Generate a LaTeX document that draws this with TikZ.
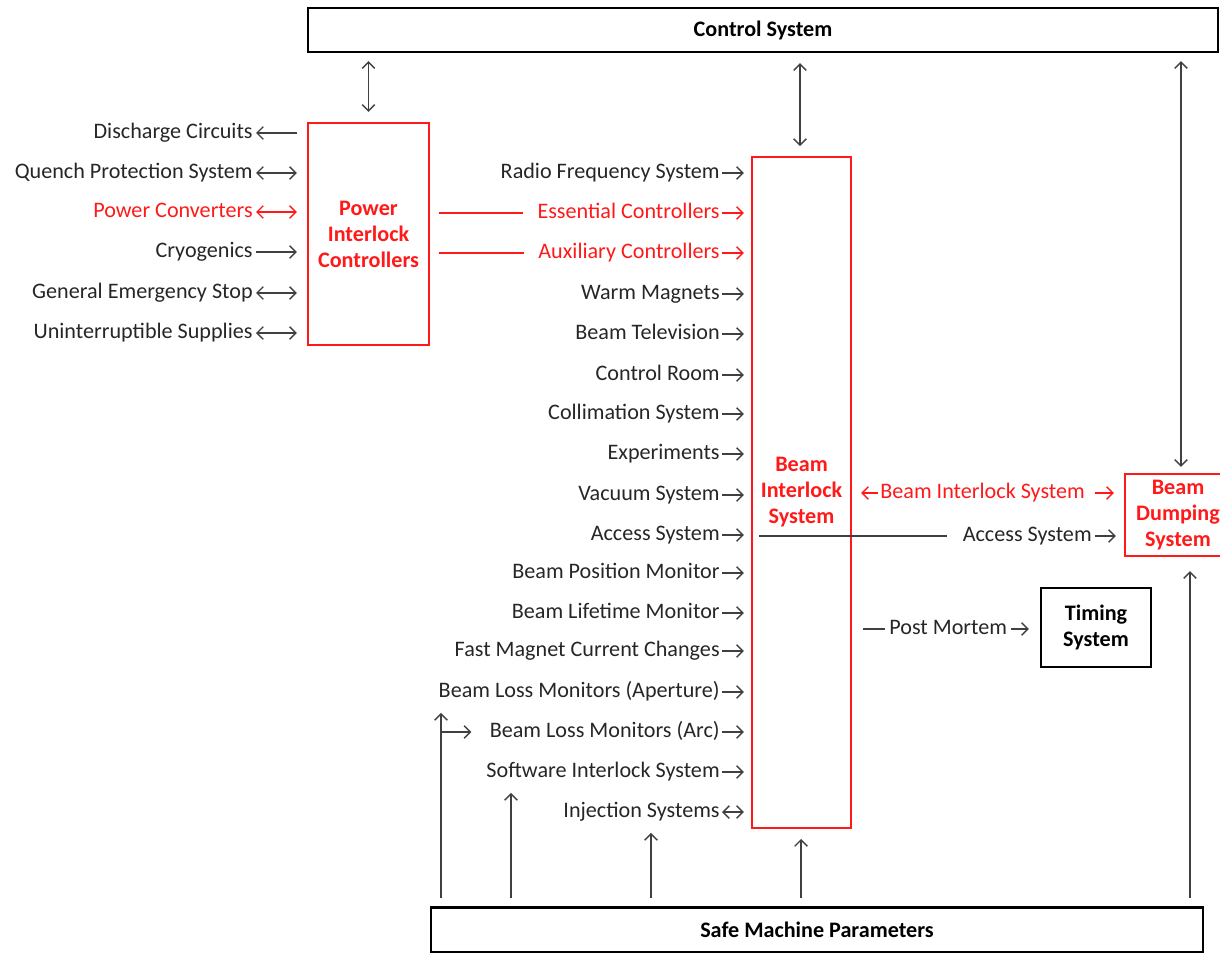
\documentclass[tikz,border=0pt]{standalone}
\usepackage{fontspec}
\setmainfont{Carlito}
\usepackage{xcolor}
\usetikzlibrary{arrows.meta, positioning}
\definecolor{linegray}{RGB}{64,64,64}
\definecolor{textgray}{RGB}{38,38,38}
\definecolor{alarm}{RGB}{255,25,25}
\tikzset{
    sysbox/.style={rectangle, draw=black, line width=1.2pt, text=black, align=center, font=\fontsize{12.6}{14.8}\selectfont\bfseries},
    redbox/.style={rectangle, draw=alarm, line width=1.2pt, text=alarm, align=center, font=\fontsize{12.6}{14.8}\selectfont\bfseries},
    sig/.style={anchor=east, inner sep=0pt, text height=9pt, text depth=3pt, text=textgray, font=\fontsize{12.6}{14.8}\selectfont},
    flow/.style={line width=0.8pt, draw=linegray},
    redflow/.style={line width=0.8pt, draw=alarm}
}

\begin{document}
\begin{tikzpicture}[
    x=0.02cm, y=-0.02cm,
    >={Straight Barb[length=3.6pt,width=7.2pt]},
    lgap/.style={shorten <=0.06cm, shorten >=0.2cm},
    bgap/.style={shorten <=0.04cm, shorten >=0.14cm}
]
    \useasboundingbox (0,0) rectangle (1220,953);

    % Main systems
    \node[sysbox, minimum width=18.2cm, minimum height=0.88cm] (ctrl) at (763,30) {Control System};
    \node[redbox, minimum width=2.42cm, minimum height=4.44cm] (pic) at (368.5,234) {Power\\Interlock\\Controllers};
    \node[redbox, minimum width=1.98cm, minimum height=13.42cm] (bis) at (801.5,492.5) {Beam\\Interlock\\System};
    \node[redbox, minimum width=2.12cm, minimum height=1.64cm] (bds) at (1178,515) {Beam\\Dumping\\System};
    \node[sysbox, minimum width=2.2cm, minimum height=1.58cm] (tim) at (1096,627.5) {Timing\\System};
    \node[sysbox, minimum width=15.44cm, minimum height=0.9cm] (smp) at (817,930) {Safe Machine Parameters};

    % Power interlock signals
    \node[sig] (dis) at (253,133) {Discharge Circuits};
    \node[sig] (qps) at (253,173) {Quench Protection System};
    \node[sig, text=alarm] (pc) at (253,212) {Power Converters};
    \node[sig] (cryo) at (253,252) {Cryogenics};
    \node[sig] (ges) at (253,293) {General Emergency Stop};
    \node[sig] (ups) at (253,333) {Uninterruptible Supplies};

    \draw[flow, lgap, <-] (dis.east) -- (dis.east -| pic.west);
    \draw[flow, lgap, <->] (qps.east) -- (qps.east -| pic.west);
    \draw[redflow, lgap, <->] (pc.east) -- (pc.east -| pic.west);
    \draw[flow, lgap, ->] (cryo.east) -- (cryo.east -| pic.west);
    \draw[flow, lgap, <->] (ges.east) -- (ges.east -| pic.west);
    \draw[flow, lgap, <->] (ups.east) -- (ups.east -| pic.west);

    % Beam interlock inputs
    \node[sig] (rf) at (720,173) {Radio Frequency System};
    \node[sig, text=alarm] (ess) at (720,213) {Essential Controllers};
    \node[sig, text=alarm] (aux) at (720,253) {Auxiliary Controllers};
    \node[sig] (wm) at (720,294) {Warm Magnets};
    \node[sig] (btv) at (720,334) {Beam Television};
    \node[sig] (cr) at (720,375) {Control Room};
    \node[sig] (coll) at (720,414) {Collimation System};
    \node[sig] (exp) at (720,454) {Experiments};
    \node[sig] (vac) at (720,495) {Vacuum System};
    \node[sig] (acc) at (720,535) {Access System};
    \node[sig] (bpm) at (720,573) {Beam Position Monitor};
    \node[sig] (blt) at (720,613) {Beam Lifetime Monitor};
    \node[sig] (fmc) at (720,651) {Fast Magnet Current Changes};
    \node[sig] (blmap) at (720,692) {Beam Loss Monitors (Aperture)};
    \node[sig] (blmarc) at (720,732) {Beam Loss Monitors (Arc)};
    \node[sig] (sis) at (720,772) {Software Interlock System};
    \node[sig] (inj) at (720,812) {Injection Systems};

    \draw[flow, bgap, ->] (rf.east) -- (rf.east -| bis.west);
    \draw[redflow, bgap, ->] (ess.east) -- (ess.east -| bis.west);
    \draw[redflow, bgap, ->] (aux.east) -- (aux.east -| bis.west);
    \draw[flow, bgap, ->] (wm.east) -- (wm.east -| bis.west);
    \draw[flow, bgap, ->] (btv.east) -- (btv.east -| bis.west);
    \draw[flow, bgap, ->] (cr.east) -- (cr.east -| bis.west);
    \draw[flow, bgap, ->] (coll.east) -- (coll.east -| bis.west);
    \draw[flow, bgap, ->] (exp.east) -- (exp.east -| bis.west);
    \draw[flow, bgap, ->] (vac.east) -- (vac.east -| bis.west);
    \draw[flow, bgap, ->] (acc.east) -- (acc.east -| bis.west);
    \draw[flow, bgap, ->] (bpm.east) -- (bpm.east -| bis.west);
    \draw[flow, bgap, ->] (blt.east) -- (blt.east -| bis.west);
    \draw[flow, bgap, ->] (fmc.east) -- (fmc.east -| bis.west);
    \draw[flow, bgap, ->] (blmap.east) -- (blmap.east -| bis.west);
    \draw[flow, bgap, ->] (blmarc.east) -- (blmarc.east -| bis.west);
    \draw[flow, bgap, ->] (sis.east) -- (sis.east -| bis.west);
    \draw[flow, bgap, <->] (inj.east) -- (inj.east -| bis.west);

    % Controllers feeding the beam interlock
    \draw[redflow, shorten <=0.18cm, shorten >=0.28cm] (pic.east |- ess.west) -- (ess.west);
    \draw[redflow, shorten <=0.18cm, shorten >=0.28cm] (pic.east |- aux.west) -- (aux.west);

    % Beam dumping links
    \node[sig, anchor=west, text=alarm] (bil) at (880,493) {Beam Interlock System};
    \node[sig] (acc2) at (1092,536) {Access System};
    \draw[redflow, ->, shorten <=0.04cm, shorten >=0.18cm] (bil.west) -- (bil.west -| bis.east);
    \draw[redflow, ->, shorten <=0.2cm, shorten >=0.2cm] (bil.east) -- (bil.east -| bds.west);
    \draw[flow, shorten <=0.16cm, shorten >=0.3cm] (bis.west |- acc2.west) -- (acc2.west);
    \draw[flow, ->, shorten <=0.06cm, shorten >=0.16cm] (acc2.east) -- (acc2.east -| bds.west);

    % Post mortem
    \node[sig, anchor=west] (pm) at (889,629) {Post Mortem};
    \draw[flow, shorten <=0.22cm, shorten >=0.08cm] (pm.west -| bis.east) -- (pm.west);
    \draw[flow, ->, shorten <=0.08cm, shorten >=0.22cm] (pm.east) -- (pm.east -| tim.west);

    % Control system links
    \draw[flow, <->, shorten <=0.16cm, shorten >=0.2cm] (ctrl.south -| pic.north) -- (pic.north);
    \draw[flow, <->, shorten <=0.2cm, shorten >=0.2cm] (ctrl.south -| 800,0) -- (bis.north -| 800,0);
    \draw[flow, <->, shorten <=0.16cm, shorten >=0.12cm] (ctrl.south -| 1181,0) -- (bds.north -| 1181,0);

    % Safe machine parameters
    \coordinate (f1) at (441,898);
    \coordinate (f2) at (511,898);
    \coordinate (f3) at (651,898);
    \coordinate (f4) at (801,898);
    \coordinate (f5) at (1190,898);
    \draw[flow, ->, shorten >=0.2cm] (f1) -- (f1 |- blmap.south);
    \draw[flow, ->, shorten >=0.36cm] (f1 |- blmarc.west) -- (blmarc.west);
    \draw[flow, ->, shorten >=0.2cm] (f2) -- (f2 |- sis.south);
    \draw[flow, ->, shorten >=0.2cm] (f3) -- (f3 |- inj.south);
    \draw[flow, ->, shorten >=0.2cm] (f4) -- (f4 |- bis.south);
    \draw[flow, ->, shorten >=0.28cm] (f5) -- (f5 |- bds.south);
\end{tikzpicture}
\end{document}
